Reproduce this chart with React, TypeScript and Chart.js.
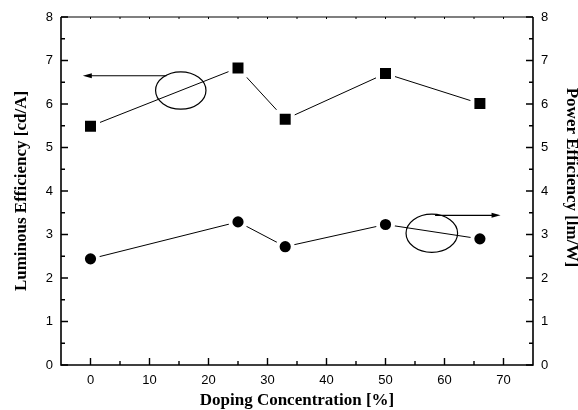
import React, { useEffect, useRef } from 'react';
import { Chart, registerables } from 'chart.js';

Chart.register(...registerables);

// ---- data ----
const dopingConcentration = [0, 25, 33, 50, 66];
const luminousEfficiency = [5.49, 6.83, 5.65, 6.7, 6.01];
const powerEfficiency = [2.44, 3.29, 2.72, 3.23, 2.9];

const xTickValues = [0, 10, 20, 30, 40, 50, 60, 70];
const xMinorTickValues = [5, 15, 25, 35, 45, 55, 65];
const xTopTickValues = [0, 5, 10, 15, 20, 25, 30, 35, 40, 45, 50, 55, 60, 65, 70];
const yTickValues = [0, 1, 2, 3, 4, 5, 6, 7, 8];
const yMinorTickValues = [0.5, 1.5, 2.5, 3.5, 4.5, 5.5, 6.5, 7.5];
const xRange = [-5, 75];
const yRange = [0, 8];

const xTitle = 'Doping Concentration [%]';
const yTitle = 'Luminous Efficiency [cd/A]';
const y1Title = 'Power Efficiency [lm/W]';

// annotation ellipses / arrows (in data units)
const leftEllipse = { cx: 15.3, cy: 6.31, rx: 4.27, ry: 0.43 };
const leftArrow = { y: 6.65, from: 12.9, to: -1.3 };
const rightEllipse = { cx: 57.85, cy: 3.03, rx: 4.37, ry: 0.44 };
const rightArrow = { y: 3.44, from: 58.4, to: 69.5 };

const tickFont = { family: "'Liberation Sans', Arial, sans-serif", size: 13 };
const titleFontSize = 17;
const titleFamily = "'Liberation Serif', 'Times New Roman', serif";
const titleFont = { family: titleFamily, size: titleFontSize, weight: 'bold' as const };

const framePlugin = {
  id: 'frame',
  afterDatasetsDraw(chart: any) {
    const { ctx, chartArea: a, scales } = chart;
    const sx = scales.x;
    const sy = scales.y;
    ctx.save();
    ctx.strokeStyle = '#000';
    ctx.fillStyle = '#000';

    // axes box
    ctx.lineWidth = 1.6;
    ctx.beginPath();
    ctx.moveTo(a.left, a.top);
    ctx.lineTo(a.left, a.bottom);
    ctx.lineTo(a.right, a.bottom);
    ctx.lineTo(a.right, a.top);
    ctx.stroke();
    ctx.lineWidth = 1.2;
    ctx.beginPath();
    ctx.moveTo(a.left, a.top);
    ctx.lineTo(a.right, a.top);
    ctx.stroke();

    // ticks (inward)
    ctx.lineWidth = 1.4;
    ctx.beginPath();
    xTickValues.forEach((v) => {
      const px = sx.getPixelForValue(v);
      ctx.moveTo(px, a.bottom);
      ctx.lineTo(px, a.bottom - 7);
    });
    xMinorTickValues.forEach((v) => {
      const px = sx.getPixelForValue(v);
      ctx.moveTo(px, a.bottom);
      ctx.lineTo(px, a.bottom - 4);
    });
    yTickValues.forEach((v) => {
      const py = sy.getPixelForValue(v);
      ctx.moveTo(a.left, py);
      ctx.lineTo(a.left + 7, py);
      ctx.moveTo(a.right, py);
      ctx.lineTo(a.right - 7, py);
    });
    yMinorTickValues.forEach((v) => {
      const py = sy.getPixelForValue(v);
      ctx.moveTo(a.left, py);
      ctx.lineTo(a.left + 4, py);
      ctx.moveTo(a.right, py);
      ctx.lineTo(a.right - 4, py);
    });
    ctx.stroke();
    ctx.lineWidth = 1;
    ctx.beginPath();
    xTopTickValues.forEach((v) => {
      const px = sx.getPixelForValue(v);
      ctx.moveTo(px, a.top);
      ctx.lineTo(px, a.top + 2);
    });
    ctx.stroke();

    // annotations
    const drawEllipse = (e: any) => {
      const cx = sx.getPixelForValue(e.cx);
      const cy = sy.getPixelForValue(e.cy);
      const rx = Math.abs(sx.getPixelForValue(e.cx + e.rx) - cx);
      const ry = Math.abs(sy.getPixelForValue(e.cy + e.ry) - cy);
      ctx.lineWidth = 1.2;
      ctx.beginPath();
      ctx.ellipse(cx, cy, rx, ry, 0, 0, Math.PI * 2);
      ctx.stroke();
    };
    const drawArrow = (ar: any) => {
      const py = sy.getPixelForValue(ar.y);
      const x0 = sx.getPixelForValue(ar.from);
      const x1 = sx.getPixelForValue(ar.to);
      const dir = x1 > x0 ? 1 : -1;
      ctx.lineWidth = 1.2;
      ctx.beginPath();
      ctx.moveTo(x0, py);
      ctx.lineTo(x1 - dir * 6, py);
      ctx.stroke();
      ctx.beginPath();
      ctx.moveTo(x1, py);
      ctx.lineTo(x1 - dir * 9, py - 2.5);
      ctx.lineTo(x1 - dir * 9, py + 2.5);
      ctx.closePath();
      ctx.fill();
    };
    drawEllipse(leftEllipse);
    drawArrow(leftArrow);
    drawEllipse(rightEllipse);
    drawArrow(rightArrow);

    // right axis title (rotated clockwise)
    ctx.save();
    ctx.translate(chart.width - 7, a.top + (a.bottom - a.top) * 0.461);
    ctx.rotate(Math.PI / 2);
    ctx.font = `bold ${titleFontSize}px ${titleFamily}`;
    ctx.textAlign = 'center';
    ctx.textBaseline = 'middle';
    ctx.fillText(y1Title, 0, 0);
    ctx.restore();

    ctx.restore();
  },
};

export default function App() {
  const canvasRef = useRef<HTMLCanvasElement | null>(null);

  useEffect(() => {
    if (!canvasRef.current) return;
    const chart = new Chart(canvasRef.current, {
      type: 'line',
      data: {
        datasets: [
          {
            label: 'Luminous Efficiency',
            data: dopingConcentration.map((x, i) => ({ x, y: luminousEfficiency[i] })),
            yAxisID: 'y',
            borderColor: '#000',
            borderWidth: 1,
            pointStyle: 'rect',
            pointRadius: 10.6,
            pointBackgroundColor: '#000',
            pointBorderColor: '#fff',
            pointBorderWidth: 4,
            tension: 0,
          },
          {
            label: 'Power Efficiency',
            data: dopingConcentration.map((x, i) => ({ x, y: powerEfficiency[i] })),
            yAxisID: 'y1',
            borderColor: '#000',
            borderWidth: 1,
            pointStyle: 'circle',
            pointRadius: 7.6,
            pointBackgroundColor: '#000',
            pointBorderColor: '#fff',
            pointBorderWidth: 4,
            tension: 0,
          },
        ],
      },
      options: {
        animation: false,
        responsive: true,
        maintainAspectRatio: false,
        layout: { padding: { top: 17, left: 0, right: 0, bottom: 0 } },
        plugins: { legend: { display: false }, tooltip: { enabled: false } },
        scales: {
          x: {
            type: 'linear',
            min: xRange[0],
            max: xRange[1],
            afterBuildTicks: (s: any) => {
              s.ticks = xTickValues.map((v) => ({ value: v }));
            },
            afterFit: (s: any) => {
              s.height = 45;
            },
            grid: { display: false, drawTicks: false },
            border: { display: false },
            ticks: { font: tickFont, color: '#000', padding: 8, maxRotation: 0, autoSkip: false },
            title: {
              display: true,
              text: xTitle,
              font: titleFont,
              color: '#000',
              padding: { top: 0, bottom: -1 },
            },
          },
          y: {
            type: 'linear',
            position: 'left',
            min: yRange[0],
            max: yRange[1],
            afterBuildTicks: (s: any) => {
              s.ticks = yTickValues.map((v) => ({ value: v }));
            },
            afterFit: (s: any) => {
              s.width = 61;
            },
            grid: { display: false, drawTicks: false },
            border: { display: false },
            ticks: { font: tickFont, color: '#000', padding: 8 },
            title: {
              display: true,
              text: yTitle,
              font: titleFont,
              color: '#000',
              padding: { top: 11, bottom: 0 },
            },
          },
          y1: {
            type: 'linear',
            position: 'right',
            min: yRange[0],
            max: yRange[1],
            afterBuildTicks: (s: any) => {
              s.ticks = yTickValues.map((v) => ({ value: v }));
            },
            afterFit: (s: any) => {
              s.width = 45;
            },
            grid: { display: false, drawTicks: false },
            border: { display: false },
            ticks: { font: tickFont, color: '#000', padding: 8 },
            title: { display: false },
          },
        },
      },
      plugins: [framePlugin],
    } as any);
    return () => chart.destroy();
  }, []);

  return (
    <div style={{ position: 'fixed', left: 0, top: 0, width: 578, height: 410, background: '#fff' }}>
      <canvas ref={canvasRef} />
    </div>
  );
}
